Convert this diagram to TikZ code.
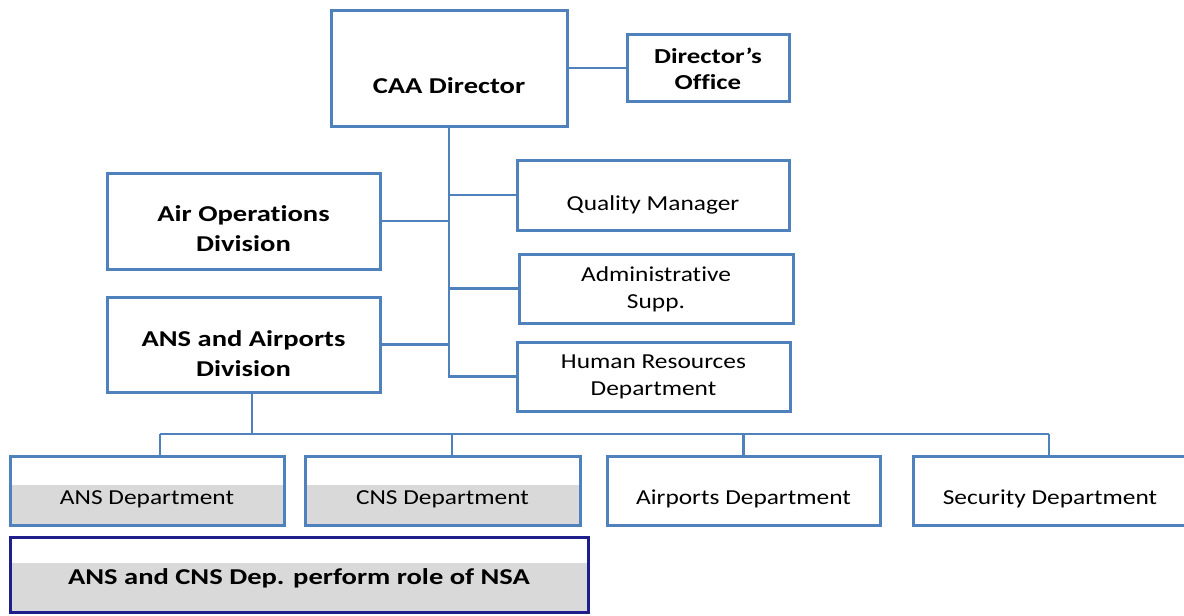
\documentclass[tikz,border=0pt]{standalone}
\usepackage{fontspec}
\setmainfont{Carlito}[Ligatures=NoCommon,
  UprightFeatures={FakeStretch=1.19},
  BoldFeatures={FakeStretch=1.26}]
\definecolor{orgblue}{RGB}{79,129,189}
\definecolor{bandgray}{RGB}{217,217,217}
\definecolor{navyline}{RGB}{30,30,140}
\tikzset{every picture/.style={line width=0.75pt}}
\tikzset{
  orgbox/.style={draw=orgblue, line width=2.25pt, inner sep=0pt},
  nsabox/.style={draw=navyline, line width=2.25pt, inner sep=0pt},
  grayband/.style={path picture={\fill [bandgray] ([shift={(0,#1)}]path picture bounding box.east) rectangle (path picture bounding box.south west);}},
  link/.style={draw=orgblue, line width=1.6pt},
  headtxt/.style={inner sep=0.75pt, align=center, font=\fontsize{17}{22.5}\selectfont\bfseries},
  bodytxt/.style={inner sep=0.75pt, align=center, font=\fontsize{16}{20}\selectfont},
}

\begin{document}
\begin{tikzpicture}[x=0.75pt,y=0.75pt,yscale=-1,xscale=1]
\useasboundingbox (0,0) rectangle (1184,615);

%Shape: Rectangle [caa]
\node [orgbox, minimum width=177pt, minimum height=87pt] (caa) at (449,68) {};
%Shape: Rectangle [dirOffice]
\node [orgbox, minimum width=121.5pt, minimum height=50.25pt] (dirOffice) at (708,68) {};
%Shape: Rectangle [qm]
\node [orgbox, minimum width=204pt, minimum height=52.5pt] (qm) at (653,195) {};
%Shape: Rectangle [admin]
\node [orgbox, minimum width=205.5pt, minimum height=51.75pt] (admin) at (656,288.5) {};
%Shape: Rectangle [hr]
\node [orgbox, minimum width=204.75pt, minimum height=51.75pt] (hr) at (653.5,376.5) {};
%Shape: Rectangle [airOps]
\node [orgbox, minimum width=204.75pt, minimum height=72pt] (airOps) at (243.5,221) {};
%Shape: Rectangle [ansAir]
\node [orgbox, minimum width=204.75pt, minimum height=71.25pt] (ansAir) at (243.5,344.5) {};

%Shape: Rectangle [ansDep]
\node [orgbox, grayband=5.5, minimum width=205.5pt, minimum height=51.75pt] (ansDep) at (147,490.5) {};
%Shape: Rectangle [cnsDep]
\node [orgbox, grayband=5.5, minimum width=206.25pt, minimum height=51.75pt] (cnsDep) at (442.5,490.5) {};
%Shape: Rectangle [airDep]
\node [orgbox, minimum width=204.75pt, minimum height=51.75pt] (airDep) at (743.5,490.5) {};
%Shape: Rectangle [secDep]
\node [orgbox, minimum width=204pt, minimum height=51.75pt] (secDep) at (1049,490.5) {};

%Shape: Rectangle [nsa]
\node [nsabox, grayband=11.5, minimum width=433.5pt, minimum height=56.25pt] (nsa) at (299,574.5) {};

%Straight Lines [caa - office]
\draw [link] (caa.east) -- (dirOffice.west);
%Straight Lines [trunk]
\draw [link] (caa.south) -- (caa.south |- hr.west) -- (hr.west);
\draw [link] (caa.south |- qm.west) -- (qm.west);
\draw [link] (caa.south |- admin.west) -- (admin.west);
\draw [link] (airOps.east) -- (airOps.east -| caa.south);
\draw [link] (ansAir.east) -- (ansAir.east -| caa.south);

%Straight Lines [bus]
\coordinate (busL) at (160,434);
\coordinate (busR) at (1049,434);
\draw [link] ([xshift=6.4pt]ansAir.south) -- ([xshift=6.4pt]ansAir.south |- busL);
\draw [link] (busL) -- (busR);
\draw [link] (busL) -- (busL |- ansDep.north);
\draw [link] ([xshift=7pt]cnsDep.north) -- ([xshift=7pt]cnsDep.north |- busL);
\draw [link] (airDep.north) -- (airDep.north |- busL);
\draw [link] (busR) -- (secDep.north);

% Text Node
\node [headtxt] (caaTxt) at (449,86) {CAA Director};
% Text Node
\node [headtxt, font=\fontsize{16}{19.5}\selectfont\bfseries] (officeTxt) at (708,69) {Director’s\\Office};
% Text Node
\node [bodytxt] (qmTxt) at (653,205) {Quality Manager};
% Text Node
\node [bodytxt] (adminTxt) at (656,289) {Administrative\\Supp.};
% Text Node
\node [bodytxt] (hrTxt) at (653.5,377) {Human Resources\\Department};
% Text Node
\node [headtxt] (airOpsTxt) at (243.5,229) {Air Operations\\Division};
% Text Node
\node [headtxt] (ansAirTxt) at (243.5,354) {ANS and Airports\\Division};
% Text Node
\node [bodytxt] (ansDepTxt) at (147,499) {ANS Department};
% Text Node
\node [bodytxt] (cnsDepTxt) at (442.5,499) {CNS Department};
% Text Node
\node [bodytxt] (airDepTxt) at (743.5,499) {Airports Department};
% Text Node
\node [bodytxt] (secDepTxt) at (1050,499) {Security Department};
% Text Node
\node [headtxt] (nsaTxt) at (299,578) {ANS and CNS Dep. perform role of NSA};

\end{tikzpicture}
\end{document}
